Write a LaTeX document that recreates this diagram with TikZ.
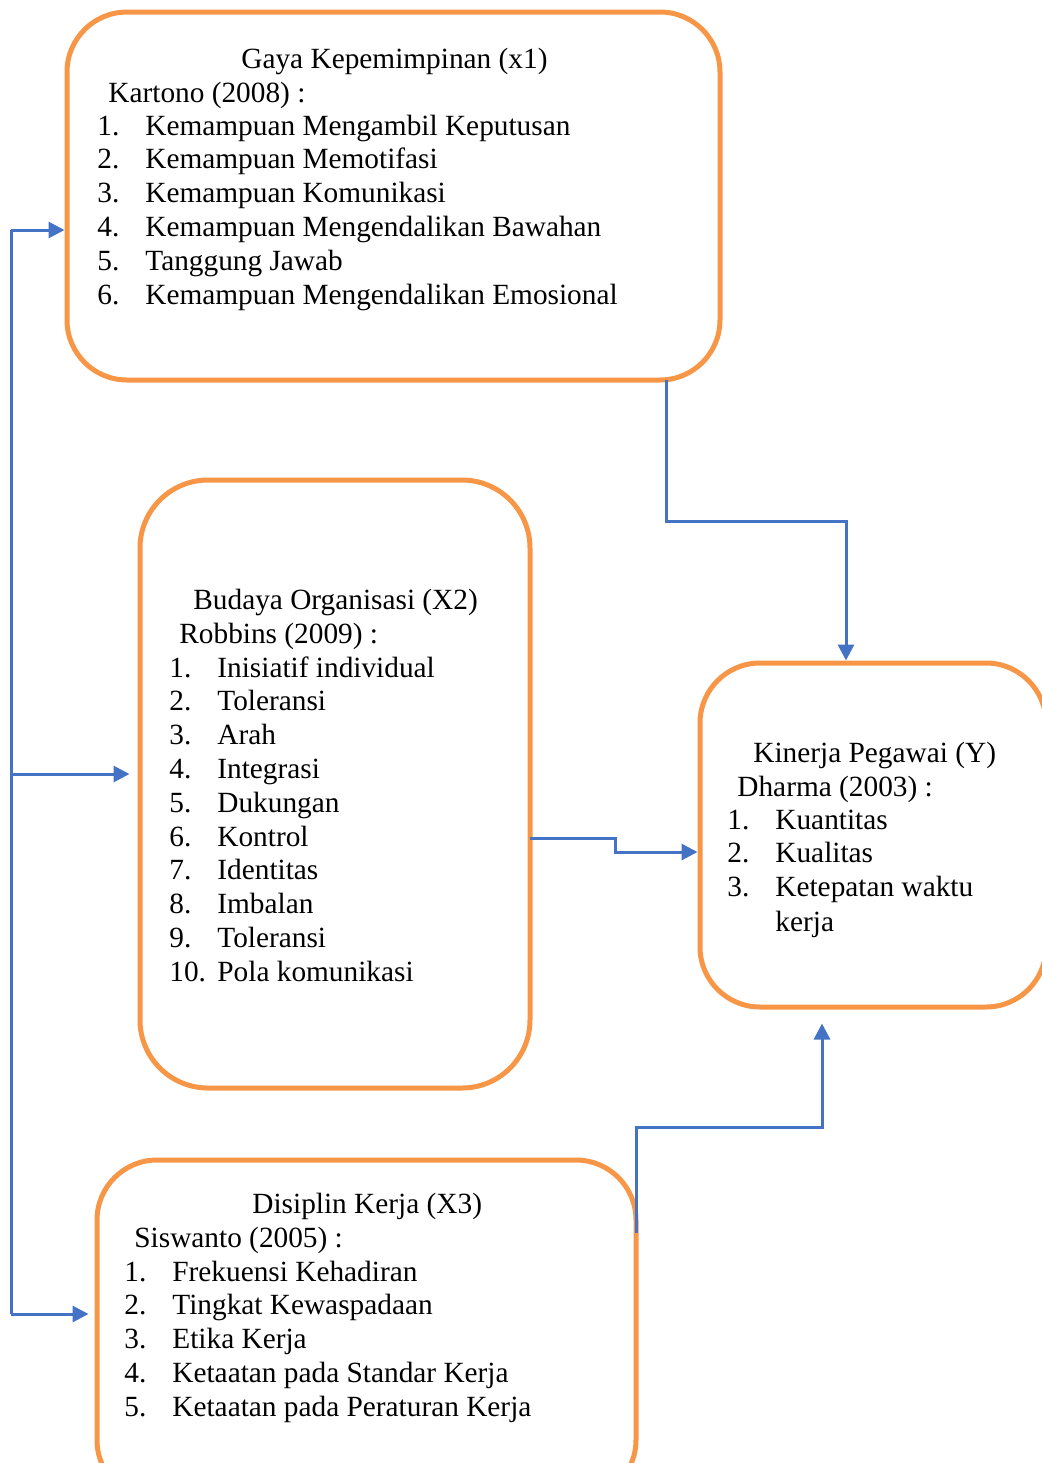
\documentclass[tikz,border=0pt]{standalone}
\usepackage{fontspec}
\setmainfont{Liberation Serif}
\usepackage{xcolor}
\usetikzlibrary{arrows.meta,positioning}

\definecolor{boxorange}{RGB}{247,150,70}
\definecolor{linkblue}{RGB}{68,114,196}

\begin{document}
\begin{tikzpicture}[
  x=0.5pt, y=-0.5pt,
  font=\fontsize{14.66}{17.6}\selectfont,
  varbox/.style={draw=boxorange, line width=2.5pt, rounded corners=30pt},
  txt/.style={anchor=base west, inner sep=0pt},
  link/.style={draw=linkblue, line width=1.5pt},
  arr/.style={link, -{Triangle[length=8pt,width=8pt]}}
]
\clip (0,0) rectangle (1042,1463);
\useasboundingbox (0,0) rectangle (1042,1463);

% boxes
\node[varbox, minimum width=326.5pt, minimum height=184pt] (box1) at (393.5,196) {};
\node[varbox, minimum width=195pt, minimum height=304pt, rounded corners=34pt] (box2) at (335,784) {};
\node[varbox, minimum width=173pt, minimum height=172pt] (boxY) at (873,835) {};
\node[varbox, minimum width=269.5pt, minimum height=170pt] (box3) at (366.5,1330) {};

% Gaya Kepemimpinan
\node[txt] (x1title) at (241,68) {Gaya Kepemimpinan (x1)};
\node[txt] (x1src) at (108,102) {Kartono (2008) :};
\foreach \t [count=\i] in {Kemampuan Mengambil Keputusan, Kemampuan Memotifasi,
  Kemampuan Komunikasi, Kemampuan Mengendalikan Bawahan, Tanggung Jawab,
  Kemampuan Mengendalikan Emosional}{
  \node[txt] (x1n\i) at (97,{135+(\i-1)*33.8}) {\i.};
  \node[txt] (x1i\i) at (145,{135+(\i-1)*33.8}) {\t};
}

% Budaya Organisasi
\node[txt] (x2title) at (193,609) {Budaya Organisasi (X2)};
\node[txt] (x2src) at (179,643) {Robbins (2009) :};
\foreach \t [count=\i] in {Inisiatif individual, Toleransi, Arah, Integrasi,
  Dukungan, Kontrol, Identitas, Imbalan, Toleransi, Pola komunikasi}{
  \node[txt] (x2n\i) at (169,{677+(\i-1)*33.8}) {\i.};
  \node[txt] (x2i\i) at (217,{677+(\i-1)*33.8}) {\t};
}

% Kinerja Pegawai
\node[txt] (ytitle) at (753,762) {Kinerja Pegawai (Y)};
\node[txt] (ysrc) at (737,796) {Dharma (2003) :};
\foreach \t [count=\i] in {Kuantitas, Kualitas, Ketepatan waktu}{
  \node[txt] (yn\i) at (727,{829+(\i-1)*33.8}) {\i.};
  \node[txt] (yi\i) at (775,{829+(\i-1)*33.8}) {\t};
}
\node[txt] (yi3b) at (775,931) {kerja};

% Disiplin Kerja
\node[txt] (x3title) at (252,1213) {Disiplin Kerja (X3)};
\node[txt] (x3src) at (134,1247) {Siswanto (2005) :};
\foreach \t [count=\i] in {Frekuensi Kehadiran, Tingkat Kewaspadaan, Etika Kerja,
  Ketaatan pada Standar Kerja, Ketaatan pada Peraturan Kerja}{
  \node[txt] (x3n\i) at (124,{1281+(\i-1)*33.8}) {\i.};
  \node[txt] (x3i\i) at (172,{1281+(\i-1)*33.8}) {\t};
}

% connectors
\coordinate (busTop) at (11,230);
\coordinate (busMid) at (10,774);
\coordinate (busBot) at (11,1314);
\draw[link] (busTop) -- (busBot);
\draw[arr] (busTop) -- (box1.west |- busTop);
\draw[arr, shorten >=4pt] (busMid) -- (box2.west |- busMid);
\draw[arr, shorten >=3pt] (busBot) -- (box3.west |- busBot);

\coordinate (x1out) at (666,380);
\coordinate (x2out) at (530,838);
\coordinate (x3out) at (636,1233);
\draw[arr] (x1out) -- ++(0,141) -| (boxY.north -| 846,0);
\draw[arr] (x2out) -- ++(85,0) -- ++(0,14) -- (boxY.west |- 0,852);
\draw[arr, shorten >=7pt] (x3out) -- ++(0,-106) -| (boxY.south -| 822,0);
\end{tikzpicture}
\end{document}
